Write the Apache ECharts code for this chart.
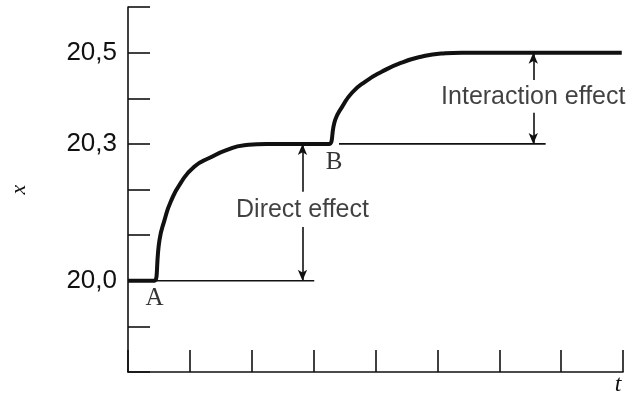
<!DOCTYPE html>
<html>
<head>
<meta charset="utf-8">
<script src="https://cdn.jsdelivr.net/npm/echarts@6/dist/echarts.min.js"></script>
<style>
    html, body {margin: 0; padding: 0; background: #fff;}
    #chart {width: 634px; height: 400px;}
</style>
</head>
<body>
<div id="chart"></div>
<script>
// main response curve (t, x)
const curve_t = [0, 0.40, 0.43, 0.51, 0.59, 0.69, 0.85, 1.07, 1.33, 1.60, 1.88, 2.24, 2.68, 3.20, 3.25,
    3.35, 3.46, 3.62, 3.83, 4.10, 4.42, 4.74, 5.06, 5.40, 7.98];
const curve_x = [20.0, 20.0, 20.0, 20.09, 20.133, 20.173, 20.214, 20.25, 20.27, 20.287, 20.297, 20.30, 20.30, 20.30, 20.30,
    20.353, 20.381, 20.412, 20.436, 20.458, 20.478, 20.491, 20.498, 20.50, 20.50];

// thin reference lines
const direct_base = [[0.43, 20.0], [3.01, 20.0]];
const interaction_base = [[3.41, 20.3], [6.75, 20.3]];

// arrows: [from, to]
const arrows = [
    [[2.82, 20.195], [2.82, 20.30]],
    [[2.82, 20.118], [2.82, 20.0]],
    [[6.55, 20.44], [6.55, 20.50]],
    [[6.55, 20.368], [6.55, 20.30]],
];

// annotations
const notes = [
    {name: 'Direct effect', value: [2.82, 20.155], kind: 'sans'},
    {name: 'Interaction effect', value: [6.55, 20.403], kind: 'sans'},
    {name: 'A', value: [0.43, 19.962], kind: 'serif'},
    {name: 'B', value: [3.33, 20.26], kind: 'serif'},
];

const y_labels = [20.0, 20.3, 20.5];

const ink = '#111';

function thin_line(points) {
    return {
        type: 'line',
        data: points,
        symbol: 'none',
        silent: true,
        lineStyle: {color: ink, width: 1.6},
        z: 2
    };
}

let chart = echarts.init(document.getElementById('chart'));

let option = {
    animation: false,
    backgroundColor: '#fff',
    grid: {left: 124, right: 11, top: 7, bottom: 28},
    xAxis: {
        type: 'value',
        min: 0,
        max: 8,
        interval: 1,
        name: 't',
        nameLocation: 'end',
        nameGap: -5,
        nameTextStyle: {
            fontFamily: 'Liberation Serif',
            fontStyle: 'italic',
            fontSize: 24,
            color: ink,
            align: 'center',
            verticalAlign: 'top',
            padding: [1, 0, 0, 0]
        },
        axisLine: {lineStyle: {color: ink, width: 1.6}},
        axisTick: {inside: true, length: 22, lineStyle: {color: ink, width: 1.6}},
        axisLabel: {show: false},
        splitLine: {show: false}
    },
    yAxis: {
        type: 'value',
        min: 19.8,
        max: 20.6,
        interval: 0.1,
        name: 'x',
        nameLocation: 'middle',
        nameRotate: 90,
        nameGap: 98,
        nameTextStyle: {
            fontFamily: 'Liberation Serif',
            fontStyle: 'italic',
            fontSize: 22,
            color: ink
        },
        axisLine: {lineStyle: {color: ink, width: 1.6}},
        axisTick: {inside: true, length: 22, lineStyle: {color: ink, width: 1.6}},
        axisLabel: {
            margin: 11,
            fontFamily: 'Liberation Sans',
            fontSize: 26,
            color: ink,
            formatter: function (v) {
                let hit = y_labels.find(l => Math.abs(l - v) < 1e-6);
                return hit === undefined ? '' : hit.toFixed(1).replace('.', ',');
            }
        },
        splitLine: {show: false}
    },
    series: [
        thin_line(direct_base),
        thin_line(interaction_base),
        {
            type: 'line',
            data: curve_t.map((t, i) => [t, curve_x[i]]),
            symbol: 'none',
            smooth: 0.55,
            lineStyle: {color: ink, width: 4},
            z: 3,
            markLine: {
                silent: true,
                symbol: ['none', 'arrow'],
                symbolSize: [7, 11],
                label: {show: false},
                lineStyle: {color: ink, width: 1.6, type: 'solid'},
                data: arrows.map(a => [{coord: a[0]}, {coord: a[1]}])
            }
        },
        {
            type: 'scatter',
            symbolSize: 0,
            silent: true,
            data: notes.map(n => ({
                name: n.name,
                value: n.value,
                label: n.kind === 'serif'
                    ? {fontFamily: 'Liberation Serif', fontSize: 25, color: '#000'}
                    : {fontFamily: 'Liberation Sans', fontSize: 25, color: ink}
            })),
            label: {
                show: true,
                position: 'inside',
                formatter: p => p.name
            },
            z: 4
        }
    ]
};

chart.setOption(option);
</script>
</body>
</html>
